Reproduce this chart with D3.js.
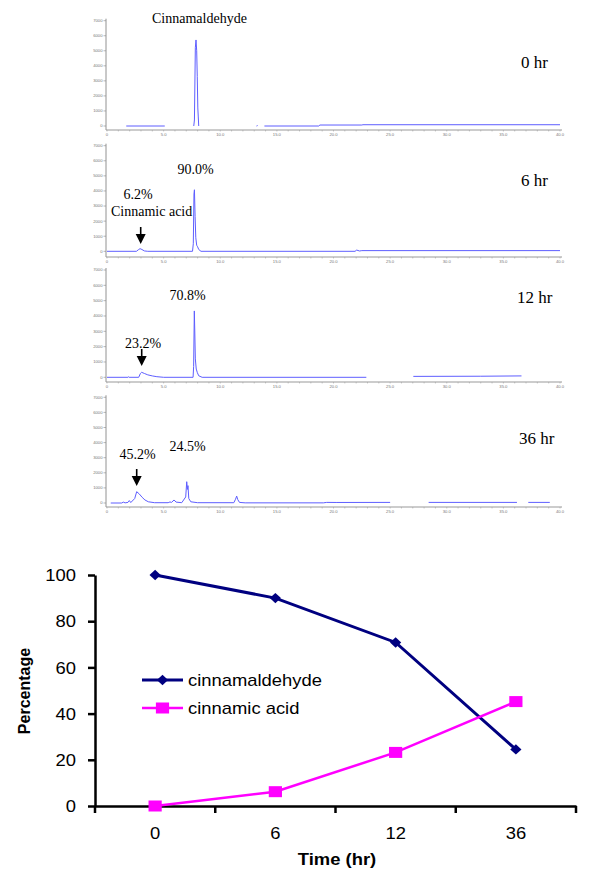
<!DOCTYPE html>
<html><head><meta charset="utf-8">
<script src="https://cdn.jsdelivr.net/npm/d3@7"></script>
<style>body{margin:0;background:#fff}svg{display:block}</style>
</head><body><svg id="c" width="600" height="882"></svg>
<script>
// ---------- bottom line chart data ----------
const timeLabels = ["0", "6", "12", "36"];
const cinnamaldehyde = [100, 90.0, 70.8, 24.5];
const cinnamicAcid = [0, 6.2, 23.2, 45.2];
const percentTicks = [0, 20, 40, 60, 80, 100];
const seriesNames = ["cinnamaldehyde", "cinnamic acid"];

// ---------- chromatogram data (retention time min, signal) ----------
const panelLabels = ["0 hr", "6 hr", "12 hr", "36 hr"];
const retentionTicks = [0, 5, 10, 15, 20, 25, 30, 35, 40];
const retentionTickLabels = ["0", "5.0", "10.0", "15.0", "20.0", "25.0", "30.0", "35.0", "40.0"];
const signalTicks = [0, 1000, 2000, 3000, 4000, 5000, 6000, 7000];

const trace0h = [
  [[1.7, 0], [5.1, 0]],
  [[7.66, 0], [7.72, 400], [7.8, 5200], [7.86, 5720], [7.92, 5000], [7.97, 3300], [8.02, 1200], [8.06, 600], [8.1, 0]],
  [[13.2, 0], [13.3, 30]],
  [[13.9, 0], [18.7, 0], [18.8, 65], [22.5, 65], [22.6, 85], [40, 85]]
];
const trace6h = [
  [[0, 0], [2.6, 0], [2.78, 110], [2.92, 175], [3.08, 120], [3.3, 25], [3.6, 0], [7.55, 0], [7.62, 500], [7.68, 3800],
   [7.72, 4080], [7.78, 2300], [7.84, 900], [7.92, 400], [8.0, 300], [8.1, 120], [8.3, 0], [21.9, 0], [22.05, 80],
   [22.3, 20], [22.5, 45], [40, 45]]
];
const trace12h = [
  [[0, 0], [1.85, 0], [1.9, 30], [1.95, 0], [2.8, 0], [2.95, 250], [3.06, 326], [3.3, 250], [3.6, 160], [4.0, 90],
   [4.4, 40], [5.0, 0], [7.6, 0], [7.65, 700], [7.71, 4330], [7.75, 3020], [7.8, 1200], [7.88, 540], [7.98, 300],
   [8.1, 100], [8.4, 0], [22.9, 0]],
  [[27.05, 60], [33.0, 70], [36.6, 90]]
];
const trace36h = [
  [[0.33, 0], [1.3, 0], [1.44, 60], [1.6, 10], [1.85, 40], [1.97, 160], [2.1, 30], [2.45, 300], [2.62, 750],
   [2.85, 600], [3.1, 380], [3.35, 200], [3.65, 80], [4.2, 20], [5.4, 20], [5.56, 70], [5.7, 40], [5.92, 200],
   [6.1, 60], [6.6, 20], [6.95, 400], [7.04, 1410], [7.1, 900], [7.15, 1150], [7.22, 300], [7.4, 80], [8.0, 20],
   [11.2, 20], [11.35, 250], [11.45, 460], [11.55, 220], [11.7, 40], [12.2, 10], [19.1, 10], [19.4, 40], [20.3, 35], [25.0, 40]],
  [[28.4, 40], [36.2, 40]],
  [[37.2, 40], [39.1, 40]]
];
const traces = [trace0h, trace6h, trace12h, trace36h];

// ---------- drawing ----------
const svg = d3.select("#c");
const serif = "'Liberation Serif','Times New Roman',serif";
const sans = "'Liberation Sans',Arial,Helvetica,sans-serif";

const panelTop = [20.7, 145.7, 270, 397.3];
const panelZero = [126, 251.3, 377.3, 503];
const panelAxisY = [130, 257, 382, 507];
const xc = d3.scaleLinear().domain([0, 40]).range([107, 560]);

traces.forEach((tr, i) => {
  const g = svg.append("g");
  const yc = d3.scaleLinear().domain([0, 7000]).range([panelZero[i], panelTop[i]]);
  // y axis
  g.append("line").attr("x1", 106).attr("x2", 106).attr("y1", panelTop[i] - 2).attr("y2", panelAxisY[i])
    .attr("stroke", "#777").attr("stroke-width", 0.8);
  signalTicks.forEach(t => {
    g.append("line").attr("x1", 103.5).attr("x2", 106).attr("y1", yc(t)).attr("y2", yc(t))
      .attr("stroke", "#888").attr("stroke-width", 0.6);
    g.append("text").attr("x", 102.5).attr("y", yc(t) + 1.4).attr("text-anchor", "end")
      .attr("font-family", sans).attr("font-size", 4.2).attr("fill", "#777").text(t);
  });
  // x axis
  g.append("line").attr("x1", 106).attr("x2", 562).attr("y1", panelAxisY[i]).attr("y2", panelAxisY[i])
    .attr("stroke", "#999").attr("stroke-width", 1);
  d3.range(0, 41).forEach(t => {
    g.append("line").attr("x1", xc(t)).attr("x2", xc(t)).attr("y1", panelAxisY[i]).attr("y2", panelAxisY[i] + 1.5)
      .attr("stroke", "#999").attr("stroke-width", 0.5);
  });
  retentionTicks.forEach((t, k) => {
    g.append("text").attr("x", xc(t)).attr("y", panelAxisY[i] + 5.5).attr("text-anchor", "middle")
      .attr("font-family", sans).attr("font-size", 4.2).attr("fill", "#777").text(retentionTickLabels[k]);
  });
  // trace
  const line = d3.line().x(d => xc(d[0])).y(d => yc(d[1]));
  tr.forEach(seg => {
    g.append("path").attr("d", line(seg)).attr("fill", "none")
      .attr("stroke", "#5e5eff").attr("stroke-width", 1).attr("stroke-linejoin", "round");
  });
  // time label
  g.append("text").attr("x", [521, 521, 517, 519][i]).attr("y", [68.3, 185.7, 303.3, 444.3][i])
    .attr("font-family", serif).attr("font-size", 17).attr("fill", "#000").text(panelLabels[i]);
});

// annotations
function ann(x, y, txt, size) {
  svg.append("text").attr("x", x).attr("y", y).attr("font-family", serif)
    .attr("font-size", size || 14).attr("fill", "#000").text(txt);
}
function arrow(x, y1, yh, tip) {
  svg.append("line").attr("x1", x).attr("x2", x).attr("y1", y1).attr("y2", yh + 1)
    .attr("stroke", "#000").attr("stroke-width", 1.6);
  svg.append("path").attr("d", `M${x - 5},${yh}L${x + 5},${yh}L${x},${tip}Z`).attr("fill", "#000");
}
const pct = v => v.toFixed(1) + "%";
ann(152, 22.5, "Cinnamaldehyde");
ann(177.5, 174.3, pct(cinnamaldehyde[1]));
ann(123.5, 199.3, pct(cinnamicAcid[1]));
ann(111, 216, "Cinnamic acid");
arrow(140.7, 227, 234, 244);
ann(169.5, 300, pct(cinnamaldehyde[2]));
ann(125, 347.7, pct(cinnamicAcid[2]));
arrow(141.7, 349, 356, 366);
ann(169.5, 450.7, pct(cinnamaldehyde[3]));
ann(119.5, 459, pct(cinnamicAcid[3]));
arrow(136.7, 469, 476, 486);

// ---------- bottom chart ----------
const SX = 1.15;
const x = d3.scaleBand().domain(timeLabels).range([95, 576]);
const cx = d => x(d) + x.bandwidth() / 2;
const y = d3.scaleLinear().domain([0, 100]).range([806, 575]);
const bg = svg.append("g");

// y axis
const ya = bg.append("g").attr("transform", "translate(95,0)")
  .call(d3.axisLeft(y).tickValues(percentTicks).tickSize(7).tickSizeOuter(0));
ya.select(".domain").attr("stroke", "#000").attr("stroke-width", 2.5);
ya.selectAll(".tick line").attr("stroke", "#000").attr("stroke-width", 2.5);
ya.selectAll(".tick text").attr("font-family", sans).attr("font-size", 16).attr("fill", "#000")
  .attr("x", -19 / SX).attr("dy", "0.36em").attr("transform", `scale(${SX},1)`);

// x axis
const xa = bg.append("g").attr("transform", "translate(0,806)")
  .call(d3.axisBottom(x).tickSize(0).tickSizeOuter(0).tickPadding(0));
xa.select(".domain").attr("stroke", "#000").attr("stroke-width", 2.5);
xa.selectAll(".tick text").attr("font-family", sans).attr("font-size", 16).attr("fill", "#000")
  .attr("y", 0).attr("dy", 0).attr("transform", `translate(0,33) scale(${SX},1)`);
timeLabels.map(d => x(d)).concat([x.range()[1]]).forEach(px => {
  xa.append("line").attr("x1", px).attr("x2", px).attr("y1", 0).attr("y2", 7)
    .attr("stroke", "#000").attr("stroke-width", 2.5);
});

// axis titles
bg.append("text").attr("transform", `translate(337,865) scale(${SX},1)`).attr("text-anchor", "middle")
  .attr("font-family", sans).attr("font-size", 16).attr("font-weight", "bold").text("Time (hr)");
bg.append("text").attr("transform", "translate(30,691) rotate(-90)").attr("text-anchor", "middle")
  .attr("font-family", sans).attr("font-size", 16).attr("font-weight", "bold").text("Percentage");

// series
const navy = "#000080", magenta = "#ff00ff";
const lineGen = d3.line().x((d, i) => cx(timeLabels[i])).y(d => y(d));
bg.append("path").attr("d", lineGen(cinnamaldehyde)).attr("fill", "none").attr("stroke", navy).attr("stroke-width", 3);
bg.append("path").attr("d", lineGen(cinnamicAcid)).attr("fill", "none").attr("stroke", magenta).attr("stroke-width", 2.5);
const diamond = (px, py) => `M${px},${py - 5.2}L${px + 5.6},${py}L${px},${py + 5.2}L${px - 5.6},${py}Z`;
cinnamaldehyde.forEach((v, i) => {
  bg.append("path").attr("d", diamond(cx(timeLabels[i]), y(v))).attr("fill", navy);
});
cinnamicAcid.forEach((v, i) => {
  bg.append("rect").attr("x", cx(timeLabels[i]) - 6.6).attr("y", y(v) - 5.5)
    .attr("width", 13.2).attr("height", 11).attr("fill", magenta);
});

// legend
const legY = [680, 708];
const legCol = [navy, magenta];
seriesNames.forEach((name, i) => {
  bg.append("line").attr("x1", 142).attr("x2", 183).attr("y1", legY[i]).attr("y2", legY[i])
    .attr("stroke", legCol[i]).attr("stroke-width", i === 0 ? 3 : 2.5);
  if (i === 0) bg.append("path").attr("d", diamond(162.5, legY[i])).attr("fill", navy);
  else bg.append("rect").attr("x", 162.5 - 6.6).attr("y", legY[i] - 5.5).attr("width", 13.2).attr("height", 11).attr("fill", magenta);
  bg.append("text").attr("transform", `translate(188,${legY[i] + 6}) scale(${SX},1)`)
    .attr("font-family", sans).attr("font-size", 16).attr("fill", "#000").text(name);
});
</script></body></html>
